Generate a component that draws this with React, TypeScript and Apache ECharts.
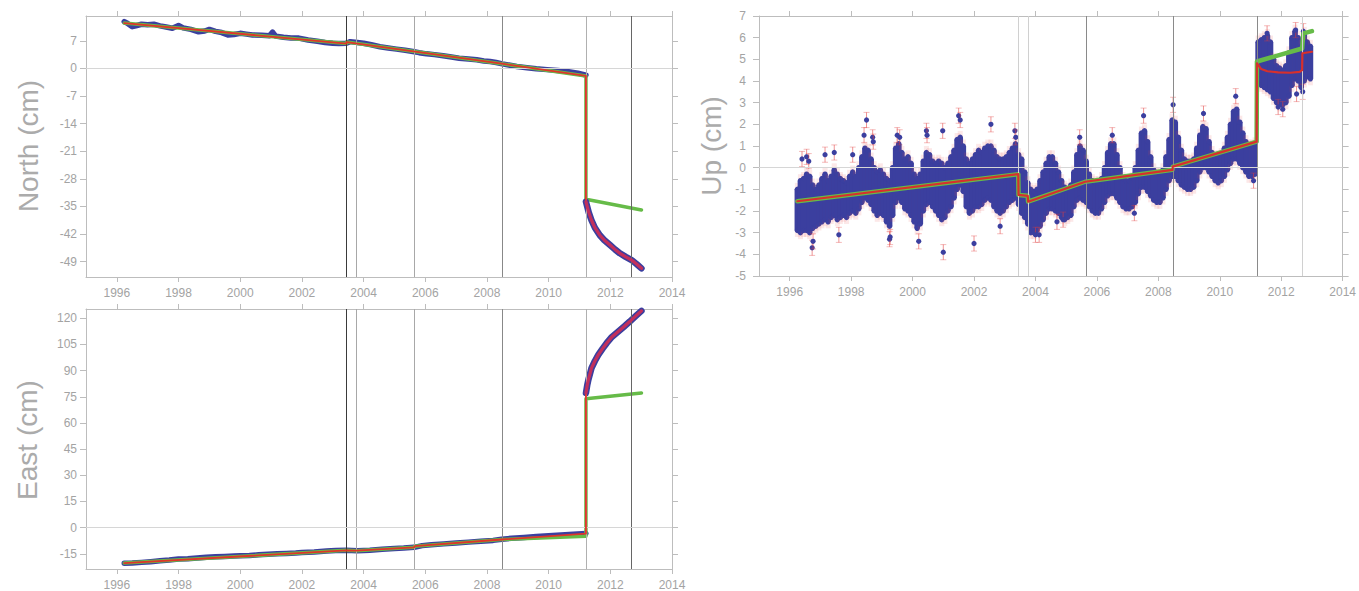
import React, { useEffect, useRef } from "react";
import * as echarts from "echarts";

// ---------- axis ticks ----------
const YEAR_TICKS = [1996, 1998, 2000, 2002, 2004, 2006, 2008, 2010, 2012, 2014];
const NORTH_TICKS = [-49, -42, -35, -28, -21, -14, -7, 0, 7];
const EAST_TICKS = [-15, 0, 15, 30, 45, 60, 75, 90, 105, 120];
const UP_TICKS = [-5, -4, -3, -2, -1, 0, 1, 2, 3, 4, 5, 6, 7];

// ---------- event epochs (vertical lines) ----------
const EVENTS = [2003.44, 2003.77, 2005.64, 2008.48, 2011.21, 2012.69];

// ---------- North (cm) ----------
const NORTH_DATA_PRE = [
  [1996.24, 11.9], [1996.35, 11.4], [1996.5, 10.6], [1996.65, 10.9], [1996.8, 11.2], [1997.0, 11.1],
  [1997.2, 11.2], [1997.4, 10.8], [1997.6, 10.5], [1997.8, 10.2], [1998.0, 10.9], [1998.15, 10.3],
  [1998.4, 9.9], [1998.65, 9.3], [1998.85, 9.5], [1999.0, 9.9], [1999.2, 9.4], [1999.4, 9.1],
  [1999.6, 8.5], [1999.8, 8.6], [2000.0, 8.9], [2000.2, 8.7], [2000.4, 8.5], [2000.7, 8.4],
  [2000.95, 8.3], [2001.05, 9.2], [2001.15, 8.2], [2001.4, 7.9], [2001.65, 7.7], [2001.9, 7.7],
  [2002.2, 7.2], [2002.5, 6.9], [2002.75, 6.6], [2003.0, 6.4], [2003.2, 6.3], [2003.44, 6.4],
  [2003.57, 6.8], [2003.8, 6.6], [2004.0, 6.4], [2004.25, 6.0], [2004.53, 5.5], [2004.8, 5.2],
  [2005.07, 4.9], [2005.35, 4.6], [2005.6, 4.3], [2005.8, 4.0], [2006.04, 3.7], [2006.3, 3.5],
  [2006.58, 3.2], [2006.85, 2.9], [2007.1, 2.6], [2007.4, 2.4], [2007.67, 2.2], [2007.9, 1.9],
  [2008.1, 1.75], [2008.3, 1.5], [2008.5, 1.16], [2008.75, 0.8], [2008.97, 0.5], [2009.3, 0.2],
  [2009.6, -0.1], [2009.95, -0.3], [2010.3, -0.5], [2010.6, -0.8], [2010.95, -1.2], [2011.21, -1.7],
];
const NORTH_DATA_POST = [
  [2011.21, -33.8], [2011.3, -36.5], [2011.39, -38.5], [2011.5, -40.4], [2011.66, -42.3],
  [2011.8, -43.5], [2011.99, -44.8], [2012.15, -45.9], [2012.31, -46.9], [2012.5, -47.8],
  [2012.69, -48.6], [2012.85, -49.6], [2013.01, -50.7],
];
const NORTH_MODEL_PRE = [[1996.24, 11.5], [2003.44, 6.3], [2003.45, 6.7], [2008.48, 1.2], [2011.21, -1.9]];
const NORTH_GREEN_POST = [[2011.21, -33.2], [2013.01, -35.9]];

// ---------- East (cm) ----------
const EAST_DATA_PRE = [
  [1996.24, -20.4], [1996.5, -20.3], [1996.8, -19.9], [1997.1, -19.5], [1997.4, -19.0], [1997.7, -18.6],
  [1998.0, -18.0], [1998.3, -17.8], [1998.6, -17.4], [1998.9, -17.0], [1999.2, -16.7], [1999.5, -16.5],
  [1999.8, -16.3], [2000.0, -16.1], [2000.3, -16.0], [2000.6, -15.6], [2000.9, -15.2], [2001.2, -15.0],
  [2001.5, -14.8], [2001.8, -14.5], [2002.0, -14.2], [2002.4, -13.9], [2002.8, -13.4], [2003.1, -13.1],
  [2003.44, -12.9], [2003.8, -13.2], [2004.2, -13.0], [2004.6, -12.4], [2005.0, -11.9], [2005.3, -11.7],
  [2005.64, -11.3], [2005.9, -10.3], [2006.2, -9.8], [2006.6, -9.3], [2007.0, -8.8], [2007.4, -8.3],
  [2007.8, -7.8], [2008.2, -7.3], [2008.48, -6.6], [2008.8, -6.1], [2009.2, -5.6], [2009.6, -5.1],
  [2010.0, -4.7], [2010.4, -4.2], [2010.8, -3.8], [2011.21, -3.3],
];
const EAST_DATA_POST = [
  [2011.21, 77.2], [2011.25, 81.5], [2011.29, 84.8], [2011.39, 91.4], [2011.5, 95.5], [2011.61, 99.0],
  [2011.75, 102.6], [2011.88, 105.7], [2012.05, 109.3], [2012.26, 112.4], [2012.45, 115.3],
  [2012.63, 118.1], [2012.82, 121.2], [2013.01, 124.2],
];
const EAST_MODEL_PRE = [
  [1996.24, -20.3], [2003.44, -13.0], [2003.77, -13.2], [2005.64, -11.3], [2005.65, -10.6],
  [2008.48, -6.8], [2011.21, -3.4],
];
const EAST_GREEN = [
  [1996.24, -20.3], [2003.44, -13.0], [2003.77, -13.2], [2005.64, -11.3], [2005.65, -10.6],
  [2008.48, -6.8], [2011.21, -4.9], [2011.21, 73.9], [2013.01, 77.2],
];

// ---------- Up (cm): dense cloud envelope [year, low, high] ----------
const UP_CLOUD = [
  [1996.25, -2.9, -1.0], [1996.35, -3.0, -0.6], [1996.45, -2.9, -0.5], [1996.55, -2.9, -0.3],
  [1996.65, -3.0, -0.4], [1996.75, -2.8, -0.8], [1996.85, -2.7, -1.0], [1996.95, -2.6, -0.8],
  [1997.05, -2.5, -0.5], [1997.15, -2.4, -0.3], [1997.25, -2.5, -0.6], [1997.35, -2.3, -0.4],
  [1997.45, -2.2, -0.1], [1997.55, -2.4, -0.3], [1997.65, -2.3, -0.5], [1997.75, -2.2, -0.6],
  [1997.85, -2.3, -0.7], [1997.95, -2.1, -0.4], [1998.05, -2.0, -0.2], [1998.15, -2.1, -0.4],
  [1998.25, -1.9, 0.0], [1998.35, -1.6, 0.5], [1998.45, -1.4, 0.9], [1998.55, -1.5, 0.8],
  [1998.65, -1.7, 0.4], [1998.75, -2.0, 0.0], [1998.85, -2.2, -0.2], [1998.95, -2.1, -0.1],
  [1999.05, -2.2, -0.3], [1999.15, -2.5, -0.5], [1999.25, -2.7, -0.6], [1999.35, -2.2, 0.0],
  [1999.45, -1.6, 0.9], [1999.55, -1.4, 1.1], [1999.65, -1.6, 0.7], [1999.75, -1.9, 0.4],
  [1999.85, -2.0, 0.5], [1999.95, -2.2, 0.2], [2000.05, -2.5, -0.3], [2000.15, -2.8, -0.5],
  [2000.25, -2.6, -0.3], [2000.35, -2.0, 0.3], [2000.45, -1.7, 0.7], [2000.55, -1.6, 0.6],
  [2000.65, -1.8, 0.3], [2000.75, -2.0, 0.2], [2000.85, -2.2, 0.3], [2000.95, -2.4, 0.2],
  [2001.05, -2.3, 0.0], [2001.15, -2.0, 0.2], [2001.25, -1.8, 0.5], [2001.35, -1.4, 0.8],
  [2001.45, -1.0, 1.3], [2001.55, -0.8, 1.4], [2001.65, -1.1, 1.0], [2001.75, -1.8, 0.4],
  [2001.85, -2.1, 0.2], [2001.95, -2.0, 0.4], [2002.05, -1.8, 0.6], [2002.15, -1.8, 0.8],
  [2002.25, -1.7, 0.7], [2002.35, -1.5, 0.9], [2002.45, -1.4, 1.0], [2002.55, -1.5, 1.0],
  [2002.65, -1.8, 0.8], [2002.75, -2.0, 0.5], [2002.85, -2.1, 0.4], [2002.95, -2.0, 0.4],
  [2003.05, -1.8, 0.5], [2003.15, -1.6, 0.7], [2003.25, -1.5, 0.9], [2003.35, -1.4, 1.1],
  [2003.45, -1.7, 0.6], [2003.55, -2.1, 0.4], [2003.65, -2.3, -0.2], [2003.75, -2.6, -0.7],
  [2003.85, -3.0, -1.0], [2003.95, -3.0, -1.1], [2004.05, -2.9, -1.0], [2004.15, -2.7, -0.6],
  [2004.25, -2.4, -0.2], [2004.35, -2.1, 0.2], [2004.45, -1.9, 0.5], [2004.55, -1.9, 0.5],
  [2004.65, -2.0, 0.2], [2004.75, -2.1, -0.2], [2004.85, -2.3, -0.6], [2004.95, -2.4, -0.9],
  [2005.05, -2.3, -1.0], [2005.15, -2.2, -0.8], [2005.25, -1.8, -0.2], [2005.35, -1.5, 0.6],
  [2005.45, -1.4, 1.0], [2005.55, -1.5, 0.8], [2005.65, -1.6, 0.3], [2005.75, -1.8, -0.3],
  [2005.85, -2.0, -0.6], [2005.95, -2.1, -0.7], [2006.05, -2.1, -0.7], [2006.15, -1.9, -0.5],
  [2006.25, -1.6, 0.0], [2006.35, -1.3, 0.7], [2006.45, -1.2, 1.1], [2006.55, -1.2, 1.1],
  [2006.65, -1.4, 0.6], [2006.75, -1.6, 0.0], [2006.85, -1.8, -0.5], [2006.95, -1.9, -0.6],
  [2007.05, -1.9, -0.6], [2007.15, -1.8, -0.5], [2007.25, -1.6, 0.0], [2007.35, -1.2, 0.8],
  [2007.45, -0.9, 1.6], [2007.55, -0.9, 1.7], [2007.65, -1.1, 1.2], [2007.75, -1.3, 0.5],
  [2007.85, -1.5, -0.1], [2007.95, -1.6, -0.3], [2008.05, -1.6, -0.3], [2008.15, -1.4, -0.1],
  [2008.25, -1.0, 0.5], [2008.35, -0.6, 1.3], [2008.45, -0.4, 2.2], [2008.55, -0.4, 2.1],
  [2008.65, -0.6, 1.4], [2008.75, -0.8, 0.8], [2008.85, -0.9, 0.4], [2008.95, -1.0, 0.3],
  [2009.05, -1.0, 0.3], [2009.15, -0.9, 0.4], [2009.25, -0.6, 0.9], [2009.35, -0.2, 1.5],
  [2009.45, 0.0, 1.9], [2009.55, 0.0, 1.8], [2009.65, -0.2, 1.2], [2009.75, -0.4, 0.7],
  [2009.85, -0.6, 0.5], [2009.95, -0.7, 0.5], [2010.05, -0.6, 0.6], [2010.15, -0.4, 0.9],
  [2010.25, -0.1, 1.4], [2010.35, 0.2, 2.0], [2010.45, 0.4, 2.6], [2010.55, 0.4, 2.7],
  [2010.65, 0.2, 2.1], [2010.75, 0.0, 1.6], [2010.85, -0.2, 1.2], [2010.95, -0.4, 1.0],
  [2011.05, -0.4, 1.0], [2011.15, -0.3, 1.1], [2011.25, 3.9, 5.8], [2011.35, 3.8, 5.9],
  [2011.45, 3.7, 6.0], [2011.55, 3.6, 6.1], [2011.65, 3.5, 5.8], [2011.75, 3.2, 5.0],
  [2011.85, 3.0, 4.7], [2011.95, 2.9, 4.6], [2012.05, 2.9, 4.5], [2012.15, 3.0, 4.7],
  [2012.25, 3.3, 5.3], [2012.35, 3.8, 6.0], [2012.45, 4.1, 6.3], [2012.55, 4.0, 6.0],
  [2012.65, 3.7, 5.6], [2012.75, 4.0, 6.2], [2012.85, 4.2, 5.8], [2012.95, 4.1, 5.6],
];
const UP_OUTLIERS = [
  [1996.4, 0.4], [1996.55, 0.5], [1996.62, 0.3], [1996.73, -3.7], [1996.76, -3.4], [1997.15, 0.6],
  [1997.45, 0.7], [1997.6, -3.1], [1998.05, 0.6], [1998.42, 1.5], [1998.5, 2.2], [1998.7, 1.4],
  [1998.72, 1.2], [1999.25, -3.3], [1999.27, -3.2], [1999.5, 1.5], [1999.58, 1.4], [2000.2, -3.4],
  [2000.45, 1.7], [2000.47, 1.5], [2000.98, 1.7], [2001.0, -3.9], [2001.5, 2.4], [2001.55, 2.2],
  [2002.0, -3.5], [2002.55, 2.0], [2002.85, -2.7], [2003.33, 1.7], [2003.36, 1.4], [2004.0, -3.1],
  [2004.12, -3.1], [2004.7, -2.5], [2004.9, -2.4], [2005.44, 1.4], [2006.5, 1.5], [2007.22, -2.1],
  [2007.52, 2.4], [2008.48, 2.9], [2009.47, 2.5], [2010.52, 3.3], [2011.1, -0.6], [2011.54, 6.2],
  [2011.9, 2.8], [2012.05, 2.7], [2012.47, 6.35], [2012.5, 3.4], [2012.7, 3.5], [2012.72, 6.3],
];
const UP_MODEL_RED = [
  [1996.25, -1.55], [2003.44, -0.3], [2003.45, -1.26], [2003.75, -1.3], [2003.76, -1.57],
  [2005.62, -0.65], [2008.46, -0.1], [2008.47, 0.05], [2011.2, 1.2], [2011.21, 4.82],
  [2011.35, 4.55], [2011.55, 4.45], [2011.9, 4.4], [2012.3, 4.38], [2012.6, 4.42], [2012.68, 4.5],
  [2012.69, 5.28], [2013.0, 5.35],
];
const UP_MODEL_GREEN = [
  [1996.25, -1.55], [2003.44, -0.3], [2003.45, -1.26], [2003.75, -1.3], [2003.76, -1.57],
  [2005.62, -0.65], [2008.46, -0.1], [2008.47, 0.05], [2011.2, 1.2], [2011.21, 4.9],
  [2012.68, 5.5], [2012.72, 6.2], [2013.0, 6.3],
];

// ---------- styles ----------
const FONT = "'Liberation Sans', Arial, Helvetica, sans-serif";
const AXIS_GRAY = "#bdbdbd";
const LABEL_GRAY = "#a3a3a3";
const BLUE = "#3b3f9f";
const RED = "#e0352a";
const GREEN = "#66bb48";
const PURPLE_RED = "#c22f5c";
const NE_EVENT_COLORS = ["#3a3a3a", "#a8a8a8", "#a8a8a8", "#888888", "#b0b0b0", "#666666"];
const UP_EVENT_COLORS = ["#d0d0d0", "#d0d0d0", "#8a8a8a", "#8a8a8a", "#8a8a8a", "#d0d0d0"];

function xAxes(gridIndex: number) {
  const common = {
    type: "value",
    gridIndex,
    min: 1995,
    max: 2014,
    axisLine: { show: true, onZero: false, lineStyle: { color: AXIS_GRAY, width: 1 } },
    axisTick: { show: true, length: 5, customValues: YEAR_TICKS, lineStyle: { color: AXIS_GRAY } },
    splitLine: { show: false },
  };
  return [
    {
      ...common,
      position: "bottom",
      axisLabel: {
        show: true,
        customValues: YEAR_TICKS,
        formatter: (v: number) => String(v),
        color: LABEL_GRAY,
        fontSize: 12,
        fontFamily: FONT,
        margin: 10,
      },
    },
    { ...common, position: "top", axisLabel: { show: false } },
  ];
}

function yAxes(gridIndex: number, min: number, max: number, ticks: number[], margin: number) {
  const common = {
    type: "value",
    gridIndex,
    min,
    max,
    axisLine: { show: true, onZero: false, lineStyle: { color: AXIS_GRAY, width: 1 } },
    axisTick: { show: true, length: 6, customValues: ticks, lineStyle: { color: AXIS_GRAY } },
    splitLine: { show: false },
  };
  return [
    {
      ...common,
      position: "left",
      axisLabel: {
        show: true,
        customValues: ticks,
        formatter: (v: number) => String(v),
        color: LABEL_GRAY,
        fontSize: 12,
        fontFamily: FONT,
        margin,
      },
    },
    { ...common, position: "right", axisLabel: { show: false } },
  ];
}

function guideSeries(axisIdx: number, colors: string[]) {
  return {
    type: "line",
    xAxisIndex: axisIdx,
    yAxisIndex: axisIdx,
    data: [],
    z: 1,
    silent: true,
    markLine: {
      silent: true,
      symbol: "none",
      label: { show: false },
      animation: false,
      data: [
        ...EVENTS.map((e, i) => ({ xAxis: e, lineStyle: { color: colors[i], width: 1, type: "solid" } })),
        { yAxis: 0, lineStyle: { color: "#d6d6d6", width: 1, type: "solid" } },
      ],
    },
  };
}

function lineSeries(axisIdx: number, data: number[][], color: string, width: number, z: number) {
  return {
    type: "line",
    xAxisIndex: axisIdx,
    yAxisIndex: axisIdx,
    data,
    showSymbol: false,
    symbol: "none",
    lineStyle: { color, width, cap: "round", join: "round" },
    z,
    silent: true,
  };
}

function buildOption() {
  const N = 0, E = 2, U = 4; // axis indices (bottom/left axis of each grid)
  return {
    animation: false,
    backgroundColor: "#ffffff",
    grid: [
      { left: 86, top: 16, width: 586, height: 261 },
      { left: 86, top: 309, width: 586, height: 261 },
      { left: 759, top: 16, width: 585, height: 260 },
    ],
    xAxis: [...xAxes(0), ...xAxes(1), ...xAxes(2)],
    yAxis: [
      ...yAxes(0, -52.9, 13.3, NORTH_TICKS, 9),
      ...yAxes(1, -23.7, 125.3, EAST_TICKS, 9),
      ...yAxes(2, -5, 7, UP_TICKS, 13),
    ],
    graphic: [
      { type: "text", x: 28, y: 146, rotation: Math.PI / 2, style: { text: "North (cm)", fontSize: 28, fontFamily: FONT, fill: "#ababab", align: "center", verticalAlign: "middle" } },
      { type: "text", x: 27, y: 440, rotation: Math.PI / 2, style: { text: "East (cm)", fontSize: 28, fontFamily: FONT, fill: "#ababab", align: "center", verticalAlign: "middle" } },
      { type: "text", x: 711, y: 146, rotation: Math.PI / 2, style: { text: "Up (cm)", fontSize: 28, fontFamily: FONT, fill: "#ababab", align: "center", verticalAlign: "middle" } },
    ],
    series: [
      // North
      guideSeries(N, NE_EVENT_COLORS),
      lineSeries(N, NORTH_DATA_PRE, BLUE, 5.5, 2),
      lineSeries(N, [...NORTH_MODEL_PRE, ...NORTH_GREEN_POST], GREEN, 3.5, 3),
      lineSeries(N, NORTH_DATA_POST, BLUE, 6.5, 4),
      lineSeries(N, [...NORTH_MODEL_PRE, ...NORTH_DATA_POST], RED, 1.8, 5),
      lineSeries(N, NORTH_DATA_POST, PURPLE_RED, 3.2, 6),
      // East
      guideSeries(E, NE_EVENT_COLORS),
      lineSeries(E, EAST_DATA_PRE, BLUE, 5.5, 2),
      lineSeries(E, EAST_GREEN, GREEN, 3.5, 3),
      lineSeries(E, EAST_DATA_POST, BLUE, 6.5, 4),
      lineSeries(E, [...EAST_MODEL_PRE, ...EAST_DATA_POST], RED, 1.8, 5),
      lineSeries(E, EAST_DATA_POST, PURPLE_RED, 3.2, 6),
      // Up
      guideSeries(U, UP_EVENT_COLORS),
      {
        type: "custom",
        xAxisIndex: U,
        yAxisIndex: U,
        data: UP_CLOUD,
        clip: true,
        silent: true,
        z: 2,
        encode: { x: 0, y: [1, 2] },
        renderItem: (params: any, api: any) => {
          const t = api.value(0);
          const lo = api.value(1);
          const hi = api.value(2);
          const a = api.coord([t - 0.05, hi]);
          const b = api.coord([t + 0.05, lo]);
          const ea = api.coord([t - 0.05, hi + 0.3]);
          const eb = api.coord([t + 0.05, lo - 0.3]);
          const c1 = api.coord([t, hi]);
          const c2 = api.coord([t, lo]);
          return {
            type: "group",
            children: [
              { type: "rect", shape: { x: ea[0] - 1, y: ea[1], width: eb[0] - ea[0] + 2, height: eb[1] - ea[1] }, style: { fill: "rgba(235,80,80,0.13)" } },
              { type: "rect", shape: { x: a[0] - 1.3, y: a[1], width: b[0] - a[0] + 2.6, height: b[1] - a[1] }, style: { fill: BLUE } },
              { type: "circle", shape: { cx: c1[0], cy: c1[1], r: 2.7 }, style: { fill: BLUE } },
              { type: "circle", shape: { cx: c2[0], cy: c2[1], r: 2.7 }, style: { fill: BLUE } },
            ],
          };
        },
      },
      {
        type: "custom",
        xAxisIndex: U,
        yAxisIndex: U,
        data: UP_OUTLIERS,
        clip: true,
        silent: true,
        z: 3,
        encode: { x: 0, y: 1 },
        renderItem: (params: any, api: any) => {
          const t = api.value(0);
          const v = api.value(1);
          const p = api.coord([t, v]);
          const top = api.coord([t, v + 0.35]);
          const bot = api.coord([t, v - 0.35]);
          return {
            type: "group",
            children: [
              { type: "line", shape: { x1: p[0], y1: top[1], x2: p[0], y2: bot[1] }, style: { stroke: "rgba(225,60,60,0.55)", lineWidth: 1 } },
              { type: "line", shape: { x1: p[0] - 3, y1: top[1], x2: p[0] + 3, y2: top[1] }, style: { stroke: "rgba(225,60,60,0.35)", lineWidth: 1 } },
              { type: "line", shape: { x1: p[0] - 3, y1: bot[1], x2: p[0] + 3, y2: bot[1] }, style: { stroke: "rgba(225,60,60,0.35)", lineWidth: 1 } },
              { type: "circle", shape: { cx: p[0], cy: p[1], r: 2.6 }, style: { fill: BLUE } },
            ],
          };
        },
      },
      lineSeries(U, UP_MODEL_GREEN, GREEN, 4.5, 4),
      lineSeries(U, UP_MODEL_RED, "#d7302c", 2.2, 5),
    ],
  };
}

export default function App() {
  const ref = useRef<HTMLDivElement>(null);
  useEffect(() => {
    if (!ref.current) return;
    const chart = echarts.init(ref.current, null, { renderer: "svg" });
    chart.setOption(buildOption() as any);
    return () => chart.dispose();
  }, []);
  return (
    <div
      ref={ref}
      style={{ position: "fixed", left: 0, top: 0, width: 1359, height: 591, background: "#fff" }}
    />
  );
}
